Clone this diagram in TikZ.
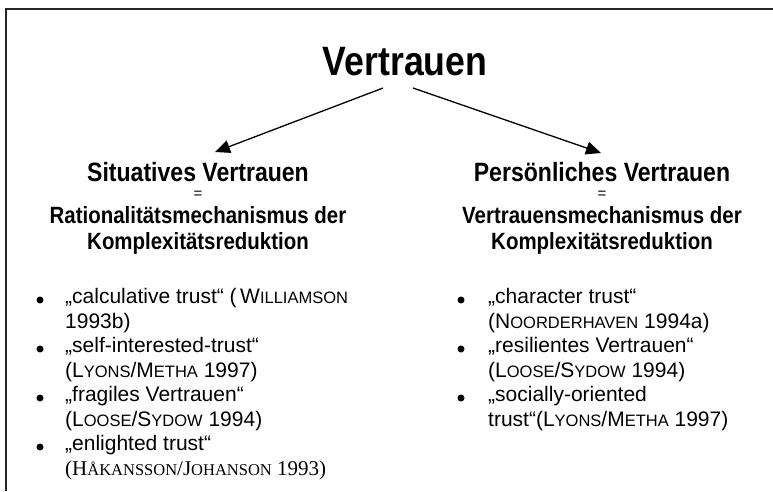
\documentclass[tikz,border=0pt]{standalone}
\usepackage{fontspec}
\setmainfont{Liberation Sans}
\newfontfamily\serifface{Liberation Serif}
% slightly narrowed sans for the bold headings
\newfontfamily\headfont{Liberation Sans}[FakeStretch=0.87]
\usetikzlibrary{arrows.meta}

% author names in small capitals: first letter full size, rest smaller
\newcommand{\nm}[2]{#1{\fontsize{16.5}{16.5}\selectfont #2}}

\tikzset{
  frameline/.style={line width=2pt, draw=black!85},
  titletext/.style={font=\headfont\bfseries\fontsize{41}{44}\selectfont, inner sep=0pt},
  headtext/.style={font=\headfont\bfseries\fontsize{26.5}{28}\selectfont, inner sep=0pt},
  eqtext/.style={font=\fontsize{15}{16}\selectfont, inner sep=0pt},
  subtext/.style={font=\headfont\bfseries\fontsize{23.5}{26}\selectfont, align=center, inner sep=0pt},
  itemtext/.style={font=\fontsize{21}{24.6}\selectfont, align=left, anchor=north west, inner sep=0pt},
  dot/.style={circle, fill=black, inner sep=0pt, minimum size=7pt},
  arr/.style={line width=1.3pt, -{Triangle[length=15pt,width=13pt]}},
}

\begin{document}
\begin{tikzpicture}[x=1pt, y=-1pt]
  \useasboundingbox (0,0) rectangle (773,491);

  % open frame: top and left edges only
  \draw[frameline] (6,491) -- (6,9) -- (773,9);

  % root
  \node[titletext] (root) at (405,62) {Vertrauen};

  % left branch
  \node[headtext] (sit) at (198,172) {Situatives Vertrauen};
  \node[eqtext] (eqL) at (198,195) {=};
  \node[subtext] (ratL) at (198,230) {Rationalitätsmechanismus der\\Komplexitätsreduktion};

  % right branch
  \node[headtext] (pers) at (602,172) {Persönliches Vertrauen};
  \node[eqtext] (eqR) at (602,195) {=};
  \node[subtext] (ratR) at (602,230) {Vertrauensmechanismus der\\Komplexitätsreduktion};

  % connectors
  \coordinate (aL0) at (383,88);
  \coordinate (aL1) at (215,152);
  \coordinate (aR0) at (413,88);
  \coordinate (aR1) at (601,153);
  \draw[arr] (aL0) -- (aL1);
  \draw[arr] (aR0) -- (aR1);

  % left list
  \node[dot] (bL1) at (40,300) {};
  \node[itemtext] (tL1) at (65,288) {„calculative trust“ (\,\nm{W}{ILLIAMSON}\\1993b)};
  \node[dot] (bL2) at (40,349) {};
  \node[itemtext] (tL2) at (65,337) {„self-interested-trust“\\(\nm{L}{YONS}/\nm{M}{ETHA} 1997)};
  \node[dot] (bL3) at (40,398) {};
  \node[itemtext] (tL3) at (65,386) {„fragiles Vertrauen“\\(\nm{L}{OOSE}/\nm{S}{YDOW} 1994)};
  \node[dot] (bL4) at (40,447) {};
  \node[itemtext] (tL4) at (65,435) {„enlighted trust“\\{\serifface(\nm{H}{ÅKANSSON}/\nm{J}{OHANSON} 1993)}};

  % right list
  \node[dot] (bR1) at (461,300) {};
  \node[itemtext] (tR1) at (488,288) {„character trust“\\(\nm{N}{OORDERHAVEN} 1994a)};
  \node[dot] (bR2) at (461,349) {};
  \node[itemtext] (tR2) at (488,337) {„resilientes Vertrauen“\\(\nm{L}{OOSE}/\nm{S}{YDOW} 1994)};
  \node[dot] (bR3) at (461,398) {};
  \node[itemtext] (tR3) at (488,386) {„socially-oriented\\trust“(\nm{L}{YONS}/\nm{M}{ETHA} 1997)};
\end{tikzpicture}
\end{document}
